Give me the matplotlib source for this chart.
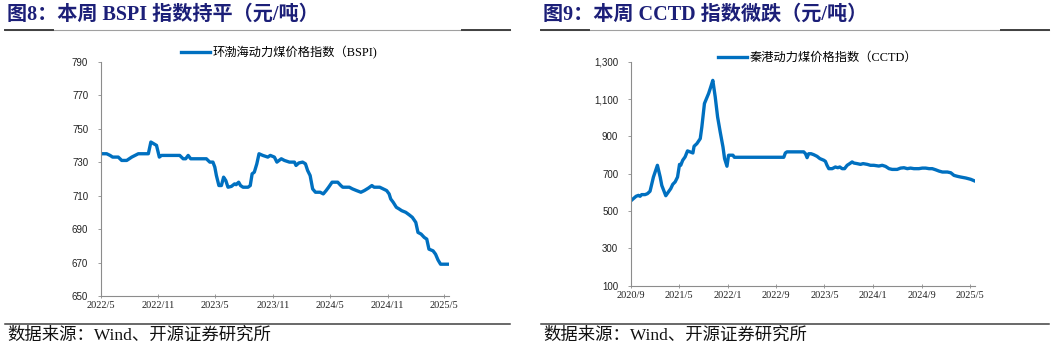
import matplotlib
matplotlib.use("Agg")
import matplotlib.pyplot as plt
import matplotlib.dates as mdates
from matplotlib.lines import Line2D
import pandas as pd

plt.rcParams["font.family"] = ["Liberation Serif", "Noto Sans CJK SC"]

# 环渤海动力煤价格指数 (BSPI), 元/吨
bspi_dates = [
    "2022-05-01", "2022-05-20", "2022-05-31", "2022-06-08", "2022-06-26", "2022-07-07",
    "2022-07-23", "2022-08-08", "2022-08-29", "2022-09-30", "2022-10-08", "2022-10-26",
    "2022-11-04", "2022-11-11", "2023-01-08", "2023-01-19", "2023-01-27", "2023-02-04",
    "2023-02-12", "2023-04-03", "2023-04-14", "2023-04-24", "2023-04-30", "2023-05-05",
    "2023-05-13", "2023-05-21", "2023-05-28", "2023-06-04", "2023-06-11", "2023-06-22",
    "2023-07-02", "2023-07-07", "2023-07-15", "2023-07-21", "2023-07-29", "2023-08-14",
    "2023-08-21", "2023-08-27", "2023-09-03", "2023-09-11", "2023-09-18", "2023-09-30",
    "2023-10-16", "2023-10-24", "2023-11-06", "2023-11-14", "2023-11-28", "2023-12-08",
    "2023-12-24", "2024-01-09", "2024-01-14", "2024-01-23", "2024-02-04", "2024-02-13",
    "2024-02-20", "2024-02-28", "2024-03-07", "2024-03-16", "2024-03-31", "2024-04-10",
    "2024-04-19", "2024-04-27", "2024-05-08", "2024-05-26", "2024-06-05", "2024-06-11",
    "2024-07-02", "2024-07-12", "2024-07-25", "2024-08-08", "2024-08-19", "2024-09-01",
    "2024-09-12", "2024-09-19", "2024-10-07", "2024-10-18", "2024-10-29", "2024-11-06",
    "2024-11-11", "2024-11-19", "2024-11-29", "2024-12-08", "2024-12-16", "2024-12-29",
    "2025-01-09", "2025-01-19", "2025-01-30", "2025-02-06", "2025-02-16", "2025-02-26",
    "2025-03-06", "2025-03-13", "2025-03-26", "2025-04-03", "2025-04-11", "2025-04-19",
    "2025-05-11",
]
bspi_values = [
    735, 735, 734, 733, 733, 731,
    731, 733, 735, 735, 742, 740,
    733, 734, 734, 732, 732, 734,
    732, 732, 730, 730, 727, 722,
    716, 716, 721, 719, 715, 715.5,
    717, 716.5, 718, 716, 715, 715,
    716, 723, 724, 729, 735, 734,
    733, 734, 733, 730, 732, 731,
    730, 730, 728, 729.5, 730, 729,
    725, 722, 714, 712, 712, 711,
    713, 715, 718, 718, 716, 715,
    715, 714, 713, 712, 713, 714.5,
    716, 715, 715, 714, 713, 711,
    708, 706, 703, 702, 701, 700,
    698.5, 697, 694, 688, 687, 685,
    684, 678, 677, 675, 671.5, 669,
    669,
]

# 秦港动力煤价格指数 (CCTD), 元/吨
cctd_dates = [
    "2020-09-01", "2020-09-14", "2020-09-28", "2020-10-10", "2020-10-18", "2020-10-26",
    "2020-11-12", "2020-11-24", "2020-12-07", "2020-12-24", "2021-01-13", "2021-01-27",
    "2021-02-04", "2021-02-24", "2021-03-09", "2021-03-21", "2021-03-31", "2021-04-12",
    "2021-04-24", "2021-05-04", "2021-05-10", "2021-05-20", "2021-06-01", "2021-06-13",
    "2021-06-26", "2021-07-10", "2021-07-16", "2021-07-30", "2021-08-16", "2021-08-24",
    "2021-09-06", "2021-09-27", "2021-10-08", "2021-10-18", "2021-10-30", "2021-11-11",
    "2021-11-24", "2021-12-08", "2021-12-16", "2021-12-28", "2022-01-05", "2022-01-27",
    "2022-02-03", "2022-10-09", "2022-10-17", "2022-10-25", "2023-01-17", "2023-01-26",
    "2023-02-03", "2023-02-11", "2023-02-23", "2023-03-08", "2023-03-25", "2023-04-08",
    "2023-04-28", "2023-05-06", "2023-05-14", "2023-05-23", "2023-06-09", "2023-06-25",
    "2023-07-07", "2023-07-17", "2023-07-29", "2023-08-10", "2023-08-23", "2023-09-05",
    "2023-09-17", "2023-09-26", "2023-10-12", "2023-10-29", "2023-11-11", "2023-12-02",
    "2023-12-18", "2024-01-04", "2024-01-29", "2024-02-15", "2024-03-03", "2024-03-20",
    "2024-04-05", "2024-04-30", "2024-05-17", "2024-06-03", "2024-06-20", "2024-07-06",
    "2024-07-23", "2024-08-17", "2024-09-03", "2024-09-20", "2024-10-07", "2024-10-23",
    "2024-11-09", "2024-11-26", "2024-12-13", "2025-01-07", "2025-01-24", "2025-02-09",
    "2025-02-26", "2025-03-15", "2025-04-09", "2025-05-04", "2025-05-24",
]
cctd_values = [
    554, 566, 579, 584, 579, 588,
    588, 593, 606, 682, 745, 682,
    637, 582, 602, 620, 643, 656,
    682, 750, 745, 772, 790, 822,
    817, 811, 847, 861, 888, 951,
    1076, 1130, 1166, 1200, 1112, 1004,
    924, 843, 781, 740, 799, 799,
    788, 788, 811, 817, 817, 807,
    786, 807, 807, 802, 793, 781,
    772, 766, 745, 727, 727, 736,
    732, 736, 727, 727, 745, 754,
    763, 757, 754, 750, 754, 750,
    745, 745, 741, 745, 739, 727,
    723, 723, 730, 732, 727, 730,
    727, 727, 730, 730, 727, 727,
    721, 714, 709, 709, 705, 691,
    686, 682, 677, 670, 661,
]

bspi_ticks = ["2022-05-01", "2022-11-01", "2023-05-01", "2023-11-01",
              "2024-05-01", "2024-11-01", "2025-05-01"]
cctd_ticks = ["2020-09-01", "2021-05-01", "2022-01-01", "2022-09-01",
              "2023-05-01", "2024-01-01", "2024-09-01", "2025-05-01"]

BLUE = "#0070C0"
NAVY = "#1C1F78"
SPINE = "#8C8C8C"
W, H = 1057, 350


def style_axis(ax, ticks):
    for side in ("top", "right"):
        ax.spines[side].set_visible(False)
    for side in ("left", "bottom"):
        ax.spines[side].set_color(SPINE)
        ax.spines[side].set_linewidth(0.8)
    t = pd.to_datetime(ticks)
    ax.set_xticks(t)
    ax.set_xticklabels([f"{d.year}/{d.month}" for d in t], fontsize=7.5,
                       family="Liberation Serif")
    ax.tick_params(axis="x", direction="inout", length=3, width=0.6,
                   color=SPINE, pad=2, labelcolor="#222222")
    ax.tick_params(axis="y", direction="out", length=2, width=0.6,
                   color=SPINE, pad=7, labelcolor="#222222")
    for lab in ax.get_yticklabels():
        lab.set_family("Liberation Sans")
        lab.set_fontsize(7)


def header(x0, x1, title, tx):
    fig.text(tx / W, 1 - 15 / H, title, fontsize=14.5, fontweight="bold",
             color=NAVY, va="center", ha="left")
    y = 1 - 29.5 / H
    fig.add_artist(Line2D([x0 / W, x1 / W], [y, y], color="#A0A0A0", lw=0.8))
    fig.add_artist(Line2D([x0 / W, (x0 + 48) / W], [y, y], color="#404040", lw=1.4))
    fig.add_artist(Line2D([(x1 - 48) / W, x1 / W], [y, y], color="#404040", lw=1.4))
    yb = 1 - 323.5 / H
    fig.add_artist(Line2D([x0 / W, x1 / W], [yb, yb], color="#404040", lw=1.1))
    fig.text(tx / W, 1 - 336 / H, "数据来源：Wind、开源证券研究所", fontsize=12.5,
             color="#111111", va="center", ha="left")


fig = plt.figure(figsize=(W / 100, H / 100), dpi=100)

# left: BSPI
ax1 = fig.add_axes([100.7 / W, 1 - 296 / H, 348 / W, 234.3 / H])
x1 = pd.to_datetime(bspi_dates)
ax1.plot(x1, bspi_values, color=BLUE, lw=2.4, solid_joinstyle="round",
         label="环渤海动力煤价格指数（BSPI)")
ax1.set_ylim(650, 790)
ax1.set_yticks(range(650, 791, 20))
ax1.set_xlim(pd.Timestamp("2022-05-01"), pd.Timestamp("2025-05-15"))
style_axis(ax1, bspi_ticks)
ax1.legend(loc="center left", bbox_to_anchor=(181 / W, 1 - 53 / H),
           bbox_transform=fig.transFigure, frameon=False, fontsize=8.8,
           handlelength=2.4, handletextpad=0.2, borderpad=0, borderaxespad=0)

# right: CCTD
ax2 = fig.add_axes([630.7 / W, 1 - 285.7 / H, 344 / W, 224 / H])
x2 = pd.to_datetime(cctd_dates)
ax2.plot(x2, cctd_values, color=BLUE, lw=2.4, solid_joinstyle="round",
         label="秦港动力煤价格指数（CCTD）")
ax2.set_ylim(100, 1300)
ax2.set_yticks(range(100, 1301, 200))
ax2.yaxis.set_major_formatter(matplotlib.ticker.StrMethodFormatter("{x:,.0f}"))
ax2.set_xlim(pd.Timestamp("2020-09-01"), pd.Timestamp("2025-05-24"))
style_axis(ax2, cctd_ticks)
ax2.legend(loc="center left", bbox_to_anchor=(718 / W, 1 - 58 / H),
           bbox_transform=fig.transFigure, frameon=False, fontsize=8.8,
           handlelength=2.4, handletextpad=0.2, borderpad=0, borderaxespad=0)

header(5, 510, "图8：本周 BSPI 指数持平（元/吨）", 7)
header(541, 1049, "图9：本周 CCTD 指数微跌（元/吨）", 543)

fig.savefig("out.png", dpi=100)
